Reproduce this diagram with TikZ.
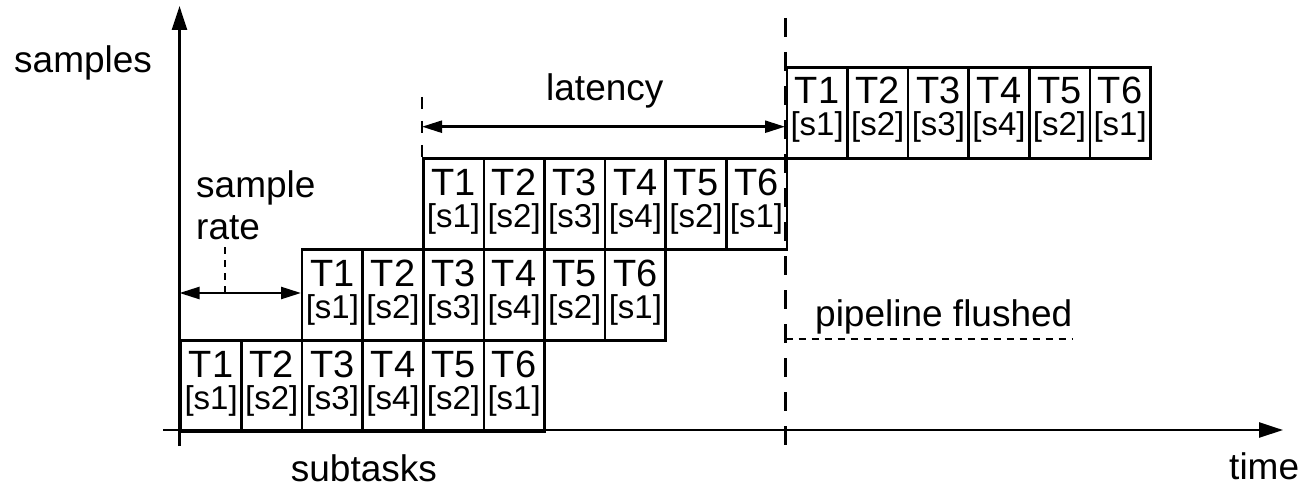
\documentclass[tikz,border=0pt]{standalone}
\usepackage{fontspec}
\setmainfont{Liberation Sans}
\usetikzlibrary{arrows.meta}
\begin{document}
\begin{tikzpicture}[x=1pt,y=-1pt,
  cellbox/.style={draw, line width=2.7pt, minimum width=60.6pt, minimum height=91pt, inner sep=0pt, anchor=north west},
  tlab/.style={anchor=base, inner sep=0pt, font=\fontsize{38}{40}\selectfont},
  slab/.style={anchor=base, inner sep=0pt, font=\fontsize{33}{35}\selectfont},
  lab/.style={anchor=base west, inner sep=0pt, font=\fontsize{37}{40}\selectfont},
  axisline/.style={line width=2.7pt, -{Triangle[length=24pt,width=15pt]}},
  dimarrow/.style={line width=2.4pt, {Triangle[length=20pt,width=12pt]}-{Triangle[length=20pt,width=12pt]}},
  longdash/.style={line width=2.3pt, dash pattern=on 19pt off 15pt},
  meddash/.style={line width=2.3pt, dash pattern=on 12pt off 12pt},
  shortdash/.style={line width=2pt, dash pattern=on 7pt off 6pt}
]
\useasboundingbox (0,0) rectangle (1305,489);

% dashed marker lines (behind boxes)
\coordinate (fA) at (785.5,18);
\coordinate (fB) at (785.5,445);
\draw[longdash] (fA) -- (fB);
\coordinate (lA) at (422,97);
\coordinate (lB) at (422,157);
\draw[meddash] (lA) -- (lB);

% cells
\def\slist{{"s1","s2","s3","s4","s2","s1"}}
\foreach \r/\sc/\ty in {1/0/339, 2/2/248, 3/4/157, 4/10/66}{
  \foreach \i in {1,...,6}{
    \pgfmathsetmacro{\cx}{179.5+60.6*(\sc+\i-1)}
    \pgfmathsetmacro{\s}{\slist[\i-1]}
    \node[cellbox] (c\r\i) at (\cx,\ty) {};
    \node[tlab] (t\r\i) at ([yshift=-38pt]c\r\i.north) {T\i};
    \node[slab] (s\r\i) at ([yshift=-70pt]c\r\i.north) {[\s]};
  }
}

% axes
\coordinate (xs) at (163,430);
\coordinate (xe) at (1283,430);
\draw[axisline] (xs) -- (xe);
\coordinate (ys) at (179.5,446);
\coordinate (ye) at (179.5,6);
\draw[axisline] (ys) -- (ye);

% latency
\coordinate (la) at (422,126.7);
\coordinate (lb) at (785,126.7);
\draw[dimarrow] (la) -- (lb);

% sample rate
\coordinate (sa) at (179.5,293);
\coordinate (sb) at (301,293);
\draw[dimarrow] (sa) -- (sb);
\coordinate (sd1) at (225.3,247);
\coordinate (sd2) at (225.3,293);
\draw[shortdash] (sd1) -- (sd2);

% pipeline flushed
\coordinate (pa) at (785.5,339.3);
\coordinate (pb) at (1073,339.3);
\draw[shortdash] (pa) -- (pb);

% labels
\node[lab] (samples) at (14,73) {samples};
\node[lab] (sample) at (196,197) {sample};
\node[lab] (rate) at (196,239) {rate};
\node[lab] (latency) at (546,101) {latency};
\node[lab] (subtasks) at (290.7,481) {subtasks};
\node[lab] (time) at (1229,479) {time};
\node[lab] (flushed) at (815,326) {pipeline flushed};
\end{tikzpicture}
\end{document}
